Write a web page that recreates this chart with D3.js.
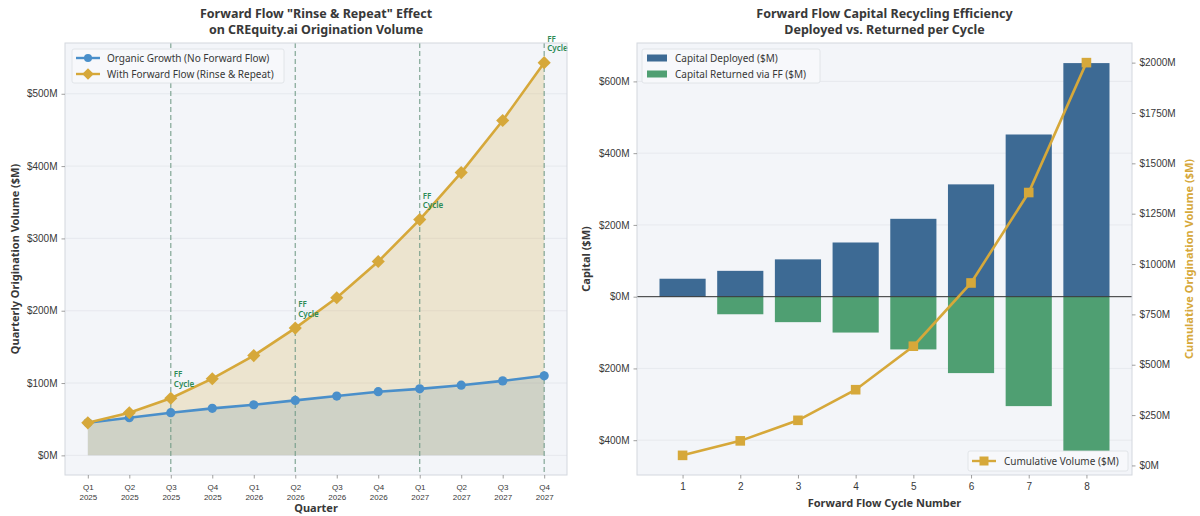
<!DOCTYPE html>
<html>
<head>
<meta charset="utf-8">
<script src="https://cdn.jsdelivr.net/npm/d3@7"></script>
<style>
  html, body { margin: 0; padding: 0; background: #ffffff; }
  svg { display: block; font-family: "Noto Sans", "Open Sans", sans-serif; }
</style>
</head>
<body>
<svg id="chart" width="1200" height="516"></svg>
<script>
// ---- Quarterly origination volume ($M) ----
const quarters = ["Q1 2025", "Q2 2025", "Q3 2025", "Q4 2025", "Q1 2026", "Q2 2026",
                  "Q3 2026", "Q4 2026", "Q1 2027", "Q2 2027", "Q3 2027", "Q4 2027"];
const organicGrowth = [45, 52, 59, 65, 70, 76, 82, 88, 92, 97, 103, 110];
const withForwardFlow = [45, 59, 79, 106, 138, 176, 218, 268, 326, 391, 463, 543];
const ffCycleQuarters = ["Q3 2025", "Q2 2026", "Q1 2027", "Q4 2027"];
const volumeTicks = [0, 100, 200, 300, 400, 500];

// ---- Capital recycling per forward-flow cycle ($M) ----
const cycles = [1, 2, 3, 4, 5, 6, 7, 8];
const capitalDeployed = [50, 72, 104, 151, 217, 313, 452, 651];
const capitalReturned = [0, 49, 71, 100, 147, 213, 305, 430];
const cumulativeVolume = [50, 122, 224, 376, 592, 906, 1355, 2000];
const capitalTicks = [-400, -200, 0, 200, 400, 600];
const cumulativeTicks = [0, 250, 500, 750, 1000, 1250, 1500, 1750, 2000];

const C = {
  bg: "#f3f5f9",
  spine: "#d3d7de",
  grid: "#e3e6eb",
  text: "#383838",
  blue: "#4a8fca",
  gold: "#d6a83a",
  deployed: "#3d6a94",
  returned: "#4f9f72",
  ff: "#2e8b57",
  ffLine: "#6f9a86"
};

const svg = d3.select("#chart");
const fmtM = v => "$" + Math.abs(v) + "M";

function frame(g, x0, x1, y0, y1) {
  g.append("rect").attr("x", x0).attr("y", y0).attr("width", x1 - x0).attr("height", y1 - y0)
    .attr("fill", C.bg);
}
function border(g, x0, x1, y0, y1) {
  g.append("rect").attr("x", x0).attr("y", y0).attr("width", x1 - x0).attr("height", y1 - y0)
    .attr("fill", "none").attr("stroke", C.spine).attr("stroke-width", 1);
}
function styleAxis(sel, size) {
  sel.select(".domain").remove();
  sel.selectAll(".tick line").attr("stroke", "#888").attr("stroke-width", 0.8);
  sel.selectAll(".tick text").attr("fill", C.text).style("font-size", size + "px");
}

// ================= Left panel =================
{
  const L = { x0: 65, x1: 567, y0: 43, y1: 475 };
  const g = svg.append("g");
  const x = d3.scaleLinear().domain([-0.55, quarters.length - 1 + 0.55]).range([L.x0, L.x1]);
  const y = d3.scaleLinear().domain([-27.15, 570.2]).range([L.y1, L.y0]);

  frame(g, L.x0, L.x1, L.y0, L.y1);

  // horizontal grid
  g.append("g").selectAll("line").data(volumeTicks).join("line")
    .attr("x1", L.x0).attr("x2", L.x1).attr("y1", d => y(d)).attr("y2", d => y(d))
    .attr("stroke", C.grid).attr("stroke-width", 0.8);

  const idx = quarters.map((q, i) => i);

  // shaded areas
  g.append("path").datum(idx)
    .attr("d", d3.area().x(i => x(i)).y0(y(0)).y1(i => y(organicGrowth[i])))
    .attr("fill", C.blue).attr("fill-opacity", 0.22);
  g.append("path").datum(idx)
    .attr("d", d3.area().x(i => x(i)).y0(y(0)).y1(i => y(withForwardFlow[i])))
    .attr("fill", C.gold).attr("fill-opacity", 0.22);

  // forward-flow cycle markers
  ffCycleQuarters.forEach(q => {
    const i = quarters.indexOf(q);
    g.append("line").attr("x1", x(i)).attr("x2", x(i)).attr("y1", L.y0).attr("y2", L.y1)
      .attr("stroke", C.ffLine).attr("stroke-width", 1.2).attr("stroke-dasharray", "5,3")
      .attr("opacity", 0.85);
  });

  // lines
  g.append("path").datum(idx)
    .attr("d", d3.line().x(i => x(i)).y(i => y(organicGrowth[i])))
    .attr("fill", "none").attr("stroke", C.blue).attr("stroke-width", 2.6);
  g.append("path").datum(idx)
    .attr("d", d3.line().x(i => x(i)).y(i => y(withForwardFlow[i])))
    .attr("fill", "none").attr("stroke", C.gold).attr("stroke-width", 2.6);

  g.append("g").selectAll("circle").data(idx).join("circle")
    .attr("cx", i => x(i)).attr("cy", i => y(organicGrowth[i])).attr("r", 4.6)
    .attr("fill", C.blue);
  const diamond = d3.symbol().type(d3.symbolDiamond2).size(110);
  g.append("g").selectAll("path").data(idx).join("path")
    .attr("transform", i => `translate(${x(i)},${y(withForwardFlow[i])})`)
    .attr("d", diamond).attr("fill", C.gold);

  // cycle annotations
  ffCycleQuarters.forEach(q => {
    const i = quarters.indexOf(q);
    const t = g.append("text").attr("x", x(i) + 3).attr("y", y(withForwardFlow[i]) - 21)
      .attr("fill", C.ff).style("font-size", "8px").style("font-weight", 600);
    t.append("tspan").attr("x", x(i) + 3).attr("dy", 0).text("FF");
    t.append("tspan").attr("x", x(i) + 3).attr("dy", 9.5).text("Cycle");
  });

  border(g, L.x0, L.x1, L.y0, L.y1);

  // axes
  const ya = g.append("g").attr("transform", `translate(${L.x0},0)`)
    .call(d3.axisLeft(y).tickValues(volumeTicks).tickFormat(fmtM).tickSize(3.5).tickPadding(4));
  styleAxis(ya, 10);
  const xa = g.append("g").attr("transform", `translate(0,${L.y1})`)
    .call(d3.axisBottom(x).tickValues(idx).tickFormat("").tickSize(3.5));
  styleAxis(xa, 8);
  xa.selectAll(".tick").each(function (i) {
    const [qq, yr] = quarters[i].split(" ");
    const t = d3.select(this).append("text").attr("fill", C.text)
      .attr("text-anchor", "middle").style("font-size", "8px");
    t.append("tspan").attr("x", 0).attr("y", 15).text(qq);
    t.append("tspan").attr("x", 0).attr("y", 24.5).text(yr);
  });

  g.append("text").attr("x", (L.x0 + L.x1) / 2).attr("y", 512).attr("text-anchor", "middle")
    .style("font-size", "11px").style("font-weight", 700).attr("fill", C.text).text("Quarter");
  g.append("text").attr("transform", `translate(19,${(L.y0 + L.y1) / 2}) rotate(-90)`)
    .attr("text-anchor", "middle").style("font-size", "11px").style("font-weight", 700)
    .attr("fill", C.text).text("Quarterly Origination Volume ($M)");

  const title = g.append("text").attr("text-anchor", "middle").attr("fill", C.text)
    .style("font-size", "12.5px").style("font-weight", 700);
  title.append("tspan").attr("x", (L.x0 + L.x1) / 2).attr("y", 18).text('Forward Flow "Rinse & Repeat" Effect');
  title.append("tspan").attr("x", (L.x0 + L.x1) / 2).attr("y", 34).text("on CREquity.ai Origination Volume");

  // legend
  const lg = g.append("g").attr("transform", `translate(${L.x0 + 7},${L.y0 + 6})`);
  lg.append("rect").attr("width", 212).attr("height", 34).attr("rx", 2)
    .attr("fill", "#f7f8fb").attr("stroke", "#dcdfe4").attr("stroke-width", 0.8);
  [["Organic Growth (No Forward Flow)", C.blue, "circle"],
   ["With Forward Flow (Rinse & Repeat)", C.gold, "diamond"]].forEach(([label, col, m], k) => {
    const cy = 9 + k * 16;
    lg.append("line").attr("x1", 4).attr("x2", 28).attr("y1", cy).attr("y2", cy)
      .attr("stroke", col).attr("stroke-width", 2.4);
    if (m === "circle") lg.append("circle").attr("cx", 16).attr("cy", cy).attr("r", 4).attr("fill", col);
    else lg.append("path").attr("transform", `translate(16,${cy})`)
      .attr("d", d3.symbol().type(d3.symbolDiamond2).size(85)).attr("fill", col);
    lg.append("text").attr("x", 35).attr("y", cy + 3.5).style("font-size", "10px")
      .attr("fill", C.text).text(label);
  });
}

// ================= Right panel =================
{
  const R = { x0: 637, x1: 1132, y0: 43, y1: 475 };
  const g = svg.append("g");
  const x = d3.scaleLinear().domain([0.21, 8.79]).range([R.x0, R.x1]);
  const y = d3.scaleLinear().domain([-497, 707]).range([R.y1, R.y0]);
  const y2 = d3.scaleLinear().domain([-47.5, 2097.5]).range([R.y1, R.y0]);
  const bw = x(0.8) - x(0);

  frame(g, R.x0, R.x1, R.y0, R.y1);
  g.append("g").selectAll("line").data(capitalTicks).join("line")
    .attr("x1", R.x0).attr("x2", R.x1).attr("y1", d => y(d)).attr("y2", d => y(d))
    .attr("stroke", C.grid).attr("stroke-width", 0.8);

  g.append("g").selectAll("rect").data(cycles).join("rect")
    .attr("x", (c) => x(c) - bw / 2).attr("width", bw)
    .attr("y", (c, i) => y(capitalDeployed[i])).attr("height", (c, i) => y(0) - y(capitalDeployed[i]))
    .attr("fill", C.deployed);
  g.append("g").selectAll("rect").data(cycles).join("rect")
    .attr("x", (c) => x(c) - bw / 2).attr("width", bw)
    .attr("y", y(0)).attr("height", (c, i) => y(-capitalReturned[i]) - y(0))
    .attr("fill", C.returned);

  g.append("line").attr("x1", R.x0).attr("x2", R.x1).attr("y1", y(0)).attr("y2", y(0))
    .attr("stroke", "#333").attr("stroke-width", 1);

  // cumulative volume on secondary axis
  g.append("path").datum(cycles)
    .attr("d", d3.line().x(c => x(c)).y((c, i) => y2(cumulativeVolume[i])))
    .attr("fill", "none").attr("stroke", C.gold).attr("stroke-width", 2.6);
  g.append("g").selectAll("rect").data(cycles).join("rect")
    .attr("x", c => x(c) - 4.8).attr("y", (c, i) => y2(cumulativeVolume[i]) - 4.8)
    .attr("width", 9.6).attr("height", 9.6).attr("fill", C.gold);

  border(g, R.x0, R.x1, R.y0, R.y1);

  const ya = g.append("g").attr("transform", `translate(${R.x0},0)`)
    .call(d3.axisLeft(y).tickValues(capitalTicks).tickFormat(fmtM).tickSize(3.5).tickPadding(4));
  styleAxis(ya, 10);
  const ya2 = g.append("g").attr("transform", `translate(${R.x1},0)`)
    .call(d3.axisRight(y2).tickValues(cumulativeTicks).tickFormat(fmtM).tickSize(3.5).tickPadding(4));
  styleAxis(ya2, 10);
  const xa = g.append("g").attr("transform", `translate(0,${R.y1})`)
    .call(d3.axisBottom(x).tickValues(cycles).tickFormat(d3.format("d")).tickSize(3.5).tickPadding(4));
  styleAxis(xa, 10);

  g.append("text").attr("x", (R.x0 + R.x1) / 2).attr("y", 507).attr("text-anchor", "middle")
    .style("font-size", "11px").style("font-weight", 700).attr("fill", C.text)
    .text("Forward Flow Cycle Number");
  g.append("text").attr("transform", `translate(590,${(R.y0 + R.y1) / 2}) rotate(-90)`)
    .attr("text-anchor", "middle").style("font-size", "11px").style("font-weight", 700)
    .attr("fill", C.text).text("Capital ($M)");
  g.append("text").attr("transform", `translate(1193,${(R.y0 + R.y1) / 2}) rotate(-90)`)
    .attr("text-anchor", "middle").style("font-size", "11px").style("font-weight", 700)
    .attr("fill", C.gold).text("Cumulative Origination Volume ($M)");

  const title = g.append("text").attr("text-anchor", "middle").attr("fill", C.text)
    .style("font-size", "12.5px").style("font-weight", 700);
  title.append("tspan").attr("x", (R.x0 + R.x1) / 2).attr("y", 18).text("Forward Flow Capital Recycling Efficiency");
  title.append("tspan").attr("x", (R.x0 + R.x1) / 2).attr("y", 34).text("Deployed vs. Returned per Cycle");

  // bar legend
  const lg = g.append("g").attr("transform", `translate(${R.x0 + 5},${R.y0 + 6})`);
  lg.append("rect").attr("width", 178).attr("height", 34).attr("rx", 2)
    .attr("fill", "#f7f8fb").attr("stroke", "#dcdfe4").attr("stroke-width", 0.8);
  [["Capital Deployed ($M)", C.deployed], ["Capital Returned via FF ($M)", C.returned]]
    .forEach(([label, col], k) => {
      const cy = 9 + k * 16;
      lg.append("rect").attr("x", 5).attr("y", cy - 3.5).attr("width", 20).attr("height", 7).attr("fill", col);
      lg.append("text").attr("x", 33).attr("y", cy + 3.5).style("font-size", "10px")
        .attr("fill", C.text).text(label);
    });

  // line legend
  const lg2 = g.append("g").attr("transform", `translate(${R.x1 - 164},${R.y1 - 24})`);
  lg2.append("rect").attr("width", 160).attr("height", 20).attr("rx", 2)
    .attr("fill", "#f7f8fb").attr("stroke", "#dcdfe4").attr("stroke-width", 0.8);
  lg2.append("line").attr("x1", 4).attr("x2", 28).attr("y1", 10).attr("y2", 10)
    .attr("stroke", C.gold).attr("stroke-width", 2.4);
  lg2.append("rect").attr("x", 11.5).attr("y", 5.5).attr("width", 9).attr("height", 9).attr("fill", C.gold);
  lg2.append("text").attr("x", 36).attr("y", 13.5).style("font-size", "10px")
    .attr("fill", C.text).text("Cumulative Volume ($M)");
}
</script>
</body>
</html>
